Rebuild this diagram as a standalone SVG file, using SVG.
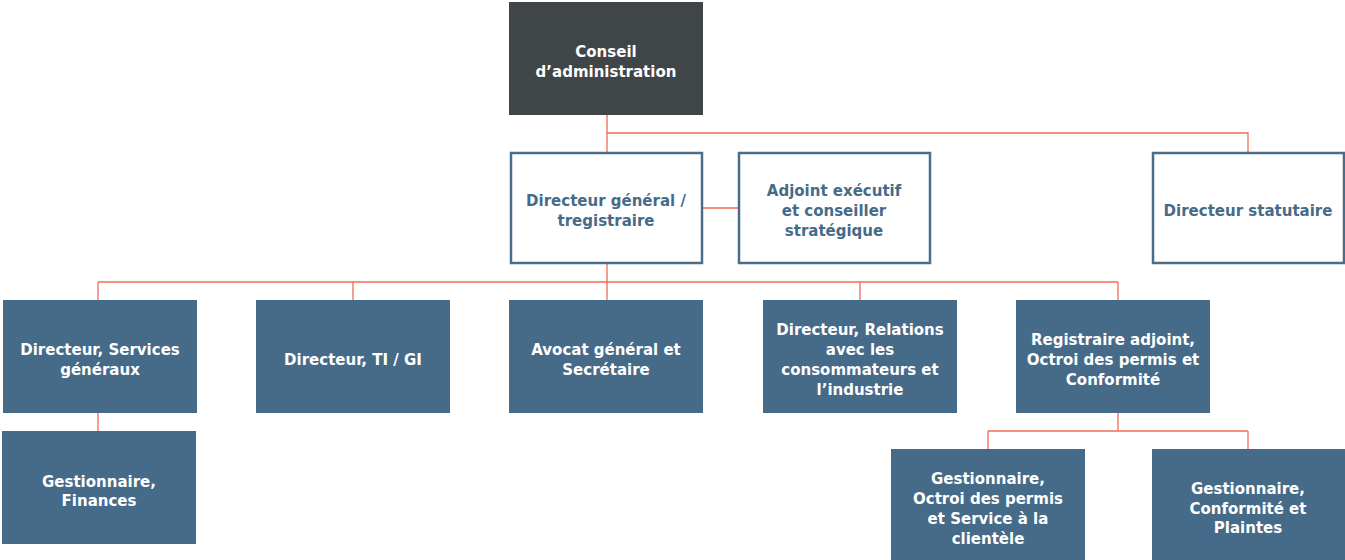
<svg xmlns="http://www.w3.org/2000/svg" width="1345" height="560" viewBox="0 0 1345 560">
<style>
.dark{fill:#404548}
.fill{fill:#466b89}
.out{fill:#ffffff;stroke:#4a6d8b;stroke-width:2.5}
.t{font-family:"DejaVu Sans","Liberation Sans",sans-serif;font-weight:bold;font-size:15px;text-anchor:middle}
.w{fill:#ffffff}
.b{fill:#466b89}
.c{fill:none;stroke:#f26b55;stroke-width:1.3}
</style>
<rect width="1345" height="560" fill="#ffffff"/>
<g id="connectors">
<path class="c" d="M607 115V152M607 133H1248V152M702 208H739M607 263V300M98 282H1118M98 282V300M353 282V300M860 282V300M1118 282V300M98 413V431M1118 413V431M988 431H1248M988 431V449M1248 431V449"/>
</g>
<g id="conseil"><rect class="dark" x="509" y="2" width="194" height="113"/>
<text class="t w" x="606" y="57">Conseil</text><text class="t w" x="606" y="77">d’administration</text></g>
<g id="dg"><rect class="out" x="511" y="153" width="191" height="110"/>
<text class="t b" x="606" y="206">Directeur général /</text><text class="t b" x="606" y="226">tregistraire</text></g>
<g id="adjoint"><rect class="out" x="739" y="153" width="191" height="110"/>
<text class="t b" x="834" y="196">Adjoint exécutif</text><text class="t b" x="834" y="216">et conseiller</text><text class="t b" x="834" y="236">stratégique</text></g>
<g id="statutaire"><rect class="out" x="1153" y="153" width="191" height="110"/>
<text class="t b" x="1248" y="216">Directeur statutaire</text></g>
<g id="services"><rect class="fill" x="3" y="300" width="194" height="113"/>
<text class="t w" x="100" y="355">Directeur, Services</text><text class="t w" x="100" y="375">généraux</text></g>
<g id="ti"><rect class="fill" x="256" y="300" width="194" height="113"/>
<text class="t w" x="353" y="365">Directeur, TI / GI</text></g>
<g id="avocat"><rect class="fill" x="509" y="300" width="194" height="113"/>
<text class="t w" x="606" y="355">Avocat général et</text><text class="t w" x="606" y="375">Secrétaire</text></g>
<g id="relations"><rect class="fill" x="763" y="300" width="194" height="113"/>
<text class="t w" x="860" y="335">Directeur, Relations</text><text class="t w" x="860" y="355">avec les</text><text class="t w" x="860" y="375">consommateurs et</text><text class="t w" x="860" y="395">l’industrie</text></g>
<g id="registraire"><rect class="fill" x="1016" y="300" width="194" height="113"/>
<text class="t w" x="1113" y="345">Registraire adjoint,</text><text class="t w" x="1113" y="365">Octroi des permis et</text><text class="t w" x="1113" y="385">Conformité</text></g>
<g id="finances"><rect class="fill" x="2" y="431" width="194" height="113"/>
<text class="t w" x="99" y="487">Gestionnaire,</text><text class="t w" x="99" y="506">Finances</text></g>
<g id="octroi"><rect class="fill" x="891" y="449" width="194" height="111"/>
<text class="t w" x="988" y="484">Gestionnaire,</text><text class="t w" x="988" y="504">Octroi des permis</text><text class="t w" x="988" y="524">et Service à la</text><text class="t w" x="988" y="544">clientèle</text></g>
<g id="plaintes"><rect class="fill" x="1152" y="449" width="193" height="111"/>
<text class="t w" x="1248" y="494">Gestionnaire,</text><text class="t w" x="1248" y="514">Conformité et</text><text class="t w" x="1248" y="533">Plaintes</text></g>
</svg>
